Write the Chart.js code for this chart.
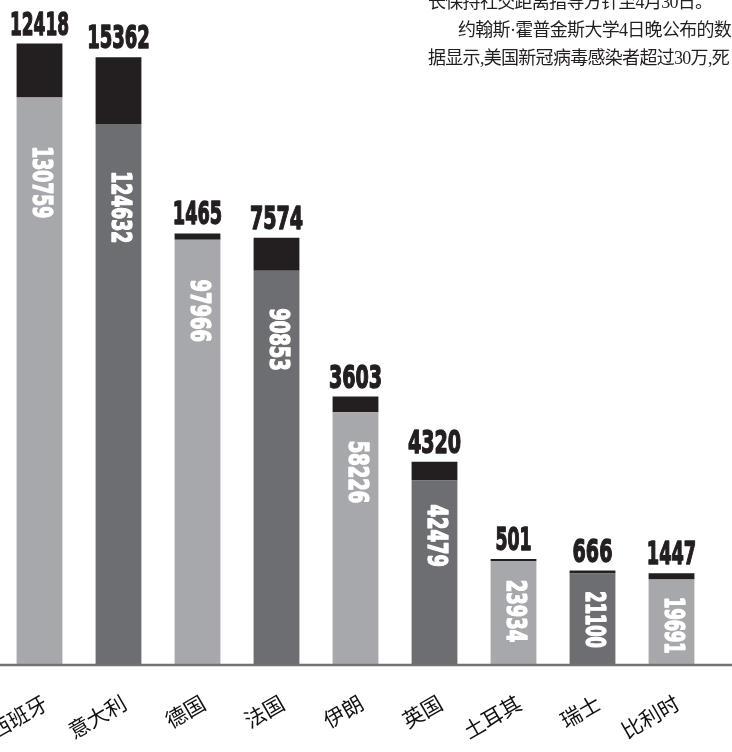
<!DOCTYPE html>
<html>
<head>
<meta charset="utf-8">
<script src="https://cdn.jsdelivr.net/npm/chart.js@4.4.1/dist/chart.umd.min.js"></script>
<style>
  body { margin: 0; background: #fff; }
  .wrap { position: relative; width: 732px; height: 752px; overflow: hidden; }
  .para {
    position: absolute;
    white-space: nowrap;
    font-family: 'Liberation Serif', 'Noto Sans CJK SC', serif;
    font-size: 18px;
    letter-spacing: -0.7px;
    line-height: 20px;
    color: #231f20;
  }
</style>
</head>
<body>
<div class="wrap">
  <canvas id="chart"></canvas>
  <div class="para" style="left:428px; top:-8px;">长保持社交距离指导方针至4月30日。</div>
  <div class="para" style="left:458px; top:20px;">约翰斯·霍普金斯大学4日晚公布的数</div>
  <div class="para" style="left:428px; top:48px;">据显示,美国新冠病毒感染者超过30万,死</div>
</div>
<script>
// data
const countries = ['西班牙', '意大利', '德国', '法国', '伊朗', '英国', '土耳其', '瑞士', '比利时'];
const otherCases = [130759, 124632, 97966, 90853, 58226, 42479, 23934, 21100, 19691];
const deaths = [12418, 15362, 1465, 7574, 3603, 4320, 501, 666, 1447];

const LIGHT = '#a7a8ab';
const DARK = '#6d6e71';
const BLACK = '#231f20';
const NUM_FONT = "'Liberation Sans Narrow', 'DejaVu Sans Condensed', 'Liberation Sans', sans-serif";

// squeeze number text to a newspaper-like condensed width
function digitsWidth(text, w, w1) {
  let total = 0;
  for (const c of text) total += (c === '1' ? w1 : w);
  return total;
}

function drawSqueezed(ctx, text, font, targetW, rotate) {
  ctx.font = font;
  const s = targetW / ctx.measureText(text).width;
  if (rotate) ctx.rotate(Math.PI / 2);
  ctx.scale(s, 1);
  ctx.lineWidth = 1.4;
  ctx.lineJoin = 'round';
  ctx.strokeText(text, 0, 0);
  ctx.fillText(text, 0, 0);
}

const labelPlugin = {
  id: 'barLabels',
  afterDatasetsDraw(chart) {
    const ctx = chart.ctx;
    const lower = chart.getDatasetMeta(0).data;
    const upper = chart.getDatasetMeta(1).data;
    const yBase = chart.scales.y.getPixelForValue(0);

    // baseline across the whole picture
    ctx.save();
    ctx.strokeStyle = '#737375';
    ctx.lineWidth = 2.5;
    ctx.beginPath();
    ctx.moveTo(0, yBase);
    ctx.lineTo(chart.width, yBase);
    ctx.stroke();
    ctx.restore();

    lower.forEach((bar, i) => {
      // white vertical numbers inside the grey part
      const h = bar.base - bar.y;
      const txt = String(otherCases[i]);
      ctx.save();
      ctx.fillStyle = '#ffffff';
      ctx.strokeStyle = '#ffffff';
      ctx.textAlign = 'left';
      ctx.textBaseline = 'middle';
      ctx.translate(bar.x + 1, bar.y + 12 + 0.065 * h);
      drawSqueezed(ctx, txt, 'bold 27px ' + NUM_FONT, digitsWidth(txt, 12.5, 9.5), true);
      ctx.restore();

      // black numbers above the bar
      const top = upper[i];
      const dTxt = String(deaths[i]);
      ctx.save();
      ctx.fillStyle = BLACK;
      ctx.strokeStyle = BLACK;
      ctx.textAlign = 'center';
      ctx.textBaseline = 'alphabetic';
      ctx.translate(top.x, top.y - 9);
      drawSqueezed(ctx, dTxt, 'bold 32px ' + NUM_FONT, digitsWidth(dTxt, 13.3, 9.5), false);
      ctx.restore();

      // rotated country names
      ctx.save();
      ctx.fillStyle = '#111111';
      ctx.font = "21px 'Noto Sans CJK SC', sans-serif";
      ctx.textAlign = 'right';
      ctx.textBaseline = 'middle';
      ctx.translate(bar.x + 6, 701);
      ctx.rotate(-Math.PI / 6);
      ctx.fillText(countries[i], 0, 0);
      ctx.restore();
    });
  }
};

new Chart(document.getElementById('chart'), {
  type: 'bar',
  data: {
    labels: countries,
    datasets: [
      {
        label: '确诊',
        data: otherCases,
        backgroundColor: countries.map((c, i) => (i % 2 ? DARK : LIGHT)),
        borderWidth: 0
      },
      {
        label: '死亡',
        data: deaths,
        backgroundColor: BLACK,
        borderWidth: 0
      }
    ]
  },
  options: {
    responsive: true,
    maintainAspectRatio: false,
    animation: false,
    layout: { padding: { left: 0, right: 21, top: 0, bottom: 87 } },
    datasets: { bar: { barPercentage: 0.58, categoryPercentage: 1 } },
    scales: {
      x: { stacked: true, display: false },
      y: { stacked: true, display: false, min: 0, max: 153200 }
    },
    plugins: {
      legend: { display: false },
      tooltip: { enabled: false }
    }
  },
  plugins: [labelPlugin]
});
</script>
</body>
</html>
